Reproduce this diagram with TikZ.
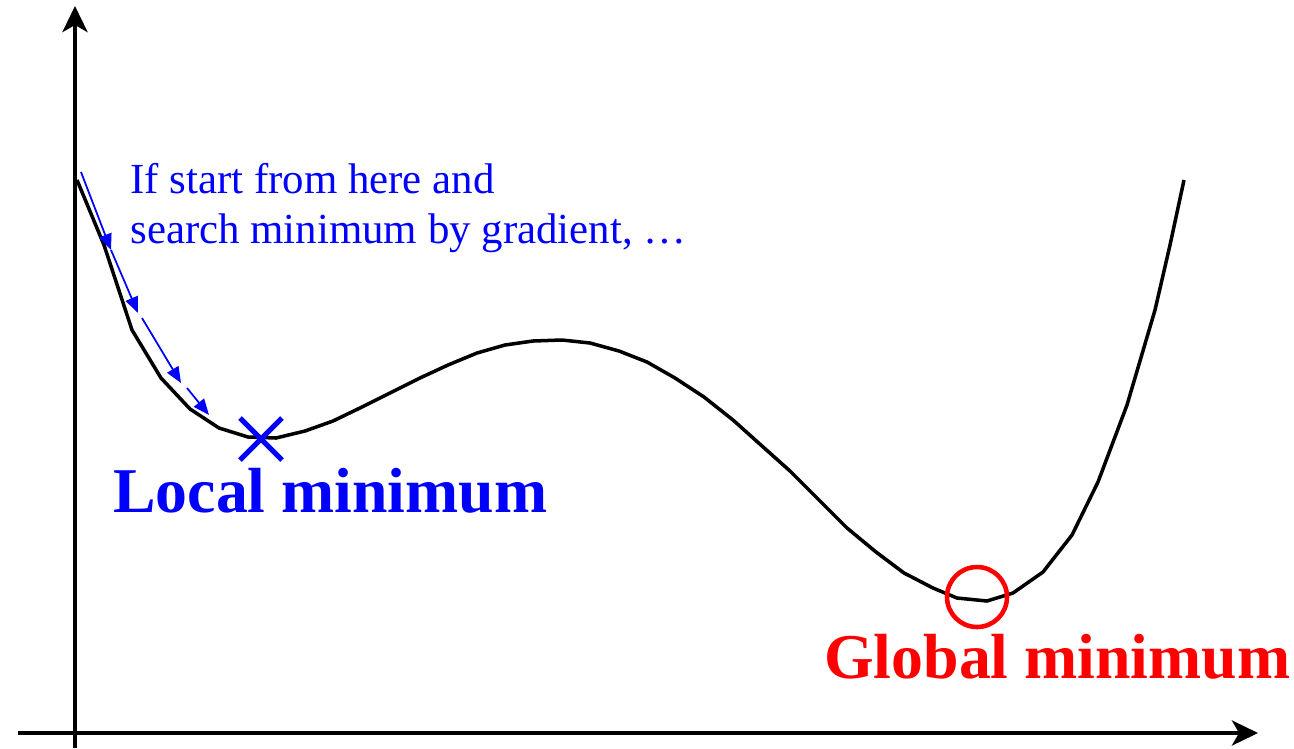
\documentclass[tikz,border=0pt]{standalone}
\usepackage{fontspec}
\setmainfont{Liberation Serif}
\usetikzlibrary{arrows.meta}
\definecolor{pblue}{RGB}{0,0,255}
\definecolor{pred}{RGB}{255,0,0}
\begin{document}
\begin{tikzpicture}[x=0.02cm,y=-0.02cm,
  axis/.style={line width=2.5pt,-{Stealth[length=0.52cm,width=0.5cm,inset=0.14cm]}},
  curve/.style={line width=2pt,line join=miter},
  gradarrow/.style={pblue,line width=1pt,-{Triangle[length=0.32cm,width=0.26cm]}},
  smalltext/.style={pblue,font=\fontsize{24.4}{28}\selectfont,inner sep=0pt,anchor=base west},
  bigtext/.style={font=\fontsize{36.3}{40}\selectfont\bfseries,inner sep=0pt,anchor=base west}]
\useasboundingbox (0,0) rectangle (1294,748);
% axes
\coordinate (yb) at (75,748);
\coordinate (yt) at (75,6);
\coordinate (xl) at (18,733);
\coordinate (xr) at (1258,733);
\draw[axis] (yb) -- (yt);
\draw[axis] (xl) -- (xr);
% curve
\draw[curve] (77,180) -- (104,245) -- (132,330) -- (161,378) -- (190,409) -- (219,428)
 -- (248,437) -- (276,438) -- (305,431) -- (333,421) -- (362,407) -- (390,393) -- (420,378)
 -- (448,365) -- (477,353) -- (505,345) -- (533,341) -- (562,340) -- (590,343) -- (619,351)
 -- (647,362) -- (675,378) -- (704,397) -- (733,420) -- (762,446) -- (790,471) -- (819,500)
 -- (847,528) -- (876,552) -- (904,573) -- (933,588) -- (957,598) -- (987,601) -- (1013,593)
 -- (1043,572) -- (1072,535) -- (1098,482) -- (1127,405) -- (1155,310) -- (1170,245) -- (1184,180);
% gradient arrows
\coordinate (g0) at (81,172);
\coordinate (g1) at (111,250);
\coordinate (g2) at (138,313);
\coordinate (g3) at (142,318);
\coordinate (g4) at (181,383);
\coordinate (g5) at (187,388);
\coordinate (g6) at (209,415);
\draw[gradarrow] (g0) -- (g1);
\draw[gradarrow] (g1) -- (g2);
\draw[gradarrow] (g3) -- (g4);
\draw[gradarrow] (g5) -- (g6);
% local minimum cross
\coordinate (lm) at (261,439);
\draw[pblue,line width=3pt] ([shift={(-21,-21)}]lm) -- ([shift={(21,21)}]lm)
  ([shift={(-21,21)}]lm) -- ([shift={(21,-21)}]lm);
% global minimum circle
\coordinate (gm) at (977,597);
\draw[pred,line width=2.6pt] (gm) circle[radius=0.6cm];
% texts
\node[smalltext] (t1) at (130,193) {If start from here and};
\node[smalltext] (t2) at (130,243) {search minimum by gradient, …};
\node[bigtext,pblue] (loc) at (113,512) {Local minimum};
\node[bigtext,pred] (glob) at (824,678) {Global minimum};
\end{tikzpicture}
\end{document}
